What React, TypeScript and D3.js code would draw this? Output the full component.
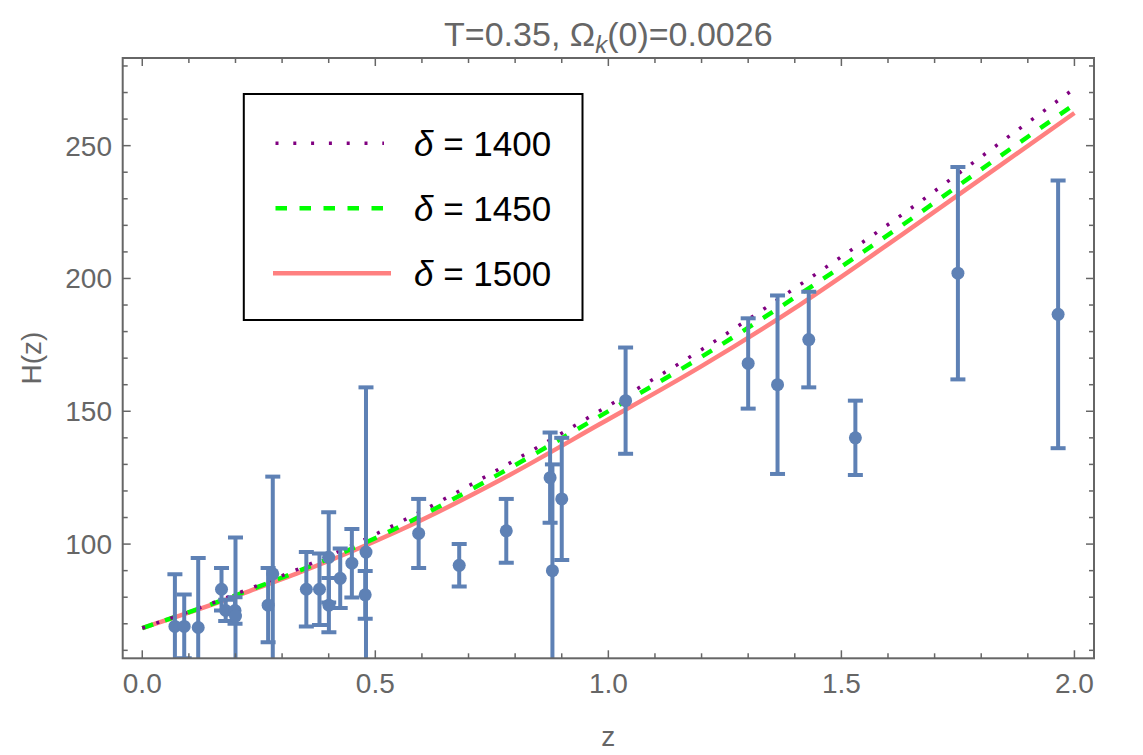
import { useEffect, useRef } from "react";
import { line, curveMonotoneX, scaleLinear, select, range } from "d3";

// observational H(z) points: redshift, value, 1-sigma error
const obsZ = [
  0.07, 0.09, 0.12, 0.17, 0.179, 0.199, 0.2, 0.27, 0.28, 0.352, 0.3802, 0.4,
  0.4004, 0.4247, 0.4497, 0.4783, 0.48, 0.593, 0.68, 0.781, 0.875, 0.88, 0.9,
  1.037, 1.3, 1.363, 1.43, 1.53, 1.75, 1.965,
];
const obsH = [
  69, 69, 68.6, 83, 75, 75, 72.9, 77, 88.8, 83, 83, 95, 77, 87.1, 92.8, 80.9,
  97, 104, 92, 105, 125, 90, 117, 154, 168, 160, 177, 140, 202, 186.5,
];
const obsErr = [
  19.6, 12, 26.2, 8, 4, 5, 29.6, 14, 36.6, 14, 13.5, 17, 10.2, 11.2, 12.9, 9,
  62, 13, 8, 12, 17, 40, 23, 20, 17, 33.6, 18, 14, 40, 50.4,
];

// model curves
const curveZ = [0, 0.12, 0.23, 0.34, 0.45, 0.55, 0.77, 0.98, 1.2, 1.41, 1.63, 1.84, 2.0];
const h1400 = [68.4, 75.8, 83.2, 91, 99.5, 108, 128.7, 150, 173.2, 197.5, 224, 251, 271.5];
const h1450 = [68.4, 75.6, 82.7, 90.2, 98.3, 106.4, 126.8, 148, 170.5, 194, 220, 246, 265.5];
const h1500 = [68.4, 75.4, 82.3, 89.5, 97.3, 105, 124.3, 145, 167, 190, 216.5, 242.5, 262.3];

const xTicks = [0, 0.5, 1, 1.5, 2];
const xTickLabels = ["0.0", "0.5", "1.0", "1.5", "2.0"];
const yTicks = [100, 150, 200, 250];

const FONT = "'Liberation Sans', Arial, sans-serif";
const GRAY = "#666666";
const BLUE = "#5e81b5";

export default function App() {
  const svgRef = useRef<SVGSVGElement | null>(null);

  useEffect(() => {
    const svg = select(svgRef.current);
    svg.selectAll("*").remove();

    const left = 122.7,
      right = 1094,
      top = 58,
      bottom = 658.3;

    const x = scaleLinear().domain([-0.042, 2.042]).range([left, right]);
    const y = scaleLinear().domain([57, 283]).range([bottom, top]);

    svg
      .append("defs")
      .append("clipPath")
      .attr("id", "plotclip")
      .append("rect")
      .attr("x", left)
      .attr("y", top)
      .attr("width", right - left)
      .attr("height", bottom - top);

    const plot = svg.append("g").attr("clip-path", "url(#plotclip)");

    // curves
    const series = [
      { vals: h1500, color: "#ff8080", width: 4.5, dash: null as string | null },
      { vals: h1450, color: "#00ff00", width: 4.5, dash: "11.5,12.5" },
      { vals: h1400, color: "#800080", width: 3.5, dash: "3,11.9" },
    ];
    series.forEach((s) => {
      const gen = line<number>()
        .x((_, i) => x(curveZ[i]))
        .y((d) => y(d))
        .curve(curveMonotoneX);
      plot
        .append("path")
        .attr("d", gen(s.vals) || "")
        .attr("fill", "none")
        .attr("stroke", s.color)
        .attr("stroke-width", s.width)
        .attr("stroke-dasharray", s.dash);
    });

    // error bars
    const eb = plot.append("g").attr("stroke", BLUE);
    obsZ.forEach((z, i) => {
      const cx = x(z);
      const lo = y(obsH[i] - obsErr[i]);
      const hi = y(obsH[i] + obsErr[i]);
      eb.append("line").attr("x1", cx).attr("x2", cx).attr("y1", lo).attr("y2", hi).attr("stroke-width", 4);
      [lo, hi].forEach((yy) =>
        eb
          .append("line")
          .attr("x1", cx - 7.5)
          .attr("x2", cx + 7.5)
          .attr("y1", yy)
          .attr("y2", yy)
          .attr("stroke-width", 4)
      );
    });
    plot
      .append("g")
      .selectAll("circle")
      .data(obsZ)
      .enter()
      .append("circle")
      .attr("cx", (d) => x(d))
      .attr("cy", (_, i) => y(obsH[i]))
      .attr("r", 6.5)
      .attr("fill", BLUE);

    // frame + ticks
    const frame = svg.append("g").attr("stroke", GRAY);
    frame
      .append("rect")
      .attr("x", left)
      .attr("y", top)
      .attr("width", right - left)
      .attr("height", bottom - top)
      .attr("fill", "none")
      .attr("stroke-width", 2);

    const xMinor = range(0, 21).map((i) => i / 10);
    xMinor.forEach((v) => {
      const major = xTicks.some((t) => Math.abs(t - v) < 1e-6);
      const len = major ? 8 : 5;
      const px = x(v);
      frame.append("line").attr("x1", px).attr("x2", px).attr("y1", bottom).attr("y2", bottom - len).attr("stroke-width", 1.5);
      frame.append("line").attr("x1", px).attr("x2", px).attr("y1", top).attr("y2", top + len).attr("stroke-width", 1.5);
    });
    const yMinor = range(60, 290, 10);
    yMinor.forEach((v) => {
      const major = yTicks.includes(v);
      const len = major ? 8 : 5;
      const py = y(v);
      frame.append("line").attr("x1", left).attr("x2", left + len).attr("y1", py).attr("y2", py).attr("stroke-width", 1.5);
      frame.append("line").attr("x1", right).attr("x2", right - len).attr("y1", py).attr("y2", py).attr("stroke-width", 1.5);
    });

    const labels = svg.append("g").attr("fill", GRAY).attr("font-family", FONT);
    xTicks.forEach((v, i) =>
      labels
        .append("text")
        .attr("x", x(v))
        .attr("y", 693)
        .attr("text-anchor", "middle")
        .attr("font-size", 28)
        .text(xTickLabels[i])
    );
    yTicks.forEach((v) =>
      labels
        .append("text")
        .attr("x", 112)
        .attr("y", y(v) + 10)
        .attr("text-anchor", "end")
        .attr("font-size", 28)
        .text(String(v))
    );
    labels
      .append("text")
      .attr("x", (left + right) / 2)
      .attr("y", 746)
      .attr("text-anchor", "middle")
      .attr("font-size", 28)
      .text("z");
    labels
      .append("text")
      .attr("transform", `translate(41,358) rotate(-90)`)
      .attr("text-anchor", "middle")
      .attr("font-size", 28)
      .text("H(z)");

    const title = labels
      .append("text")
      .attr("x", (left + right) / 2)
      .attr("y", 46)
      .attr("text-anchor", "middle")
      .attr("font-size", 34);
    title.append("tspan").text("T=0.35, Ω");
    title
      .append("tspan")
      .attr("font-size", 24)
      .attr("font-style", "italic")
      .attr("dy", 7)
      .text("k");
    title.append("tspan").attr("dy", -7).text("(0)=0.0026");

    // legend
    const lg = svg.append("g");
    lg.append("rect")
      .attr("x", 243.8)
      .attr("y", 94)
      .attr("width", 338.7)
      .attr("height", 226)
      .attr("fill", "white")
      .attr("stroke", "black")
      .attr("stroke-width", 2);
    const legendRows = [
      { label: "1400", color: "#800080", width: 3.5, dash: "3,14.8", x1: 275.5, x2: 384 },
      { label: "1450", color: "#00ff00", width: 4.5, dash: "11.5,12.5", x1: 275.5, x2: 384 },
      { label: "1500", color: "#ff8080", width: 4.5, dash: null as string | null, x1: 273, x2: 391 },
    ];
    legendRows.forEach((r, i) => {
      const cy = 143.3 + i * 65;
      lg.append("line")
        .attr("x1", r.x1)
        .attr("x2", r.x2)
        .attr("y1", cy)
        .attr("y2", cy)
        .attr("stroke", r.color)
        .attr("stroke-width", r.width)
        .attr("stroke-dasharray", r.dash);
      const t = lg
        .append("text")
        .attr("x", 414)
        .attr("y", cy + 12.5)
        .attr("font-family", FONT)
        .attr("font-size", 35)
        .attr("fill", "black");
      t.append("tspan").attr("font-style", "italic").text("δ");
      t.append("tspan").text(` = ${r.label}`);
    });
  }, []);

  return (
    <svg
      ref={svgRef}
      width={1143}
      height={755}
      style={{ position: "absolute", left: 0, top: 0, background: "white" }}
    ></svg>
  );
}
